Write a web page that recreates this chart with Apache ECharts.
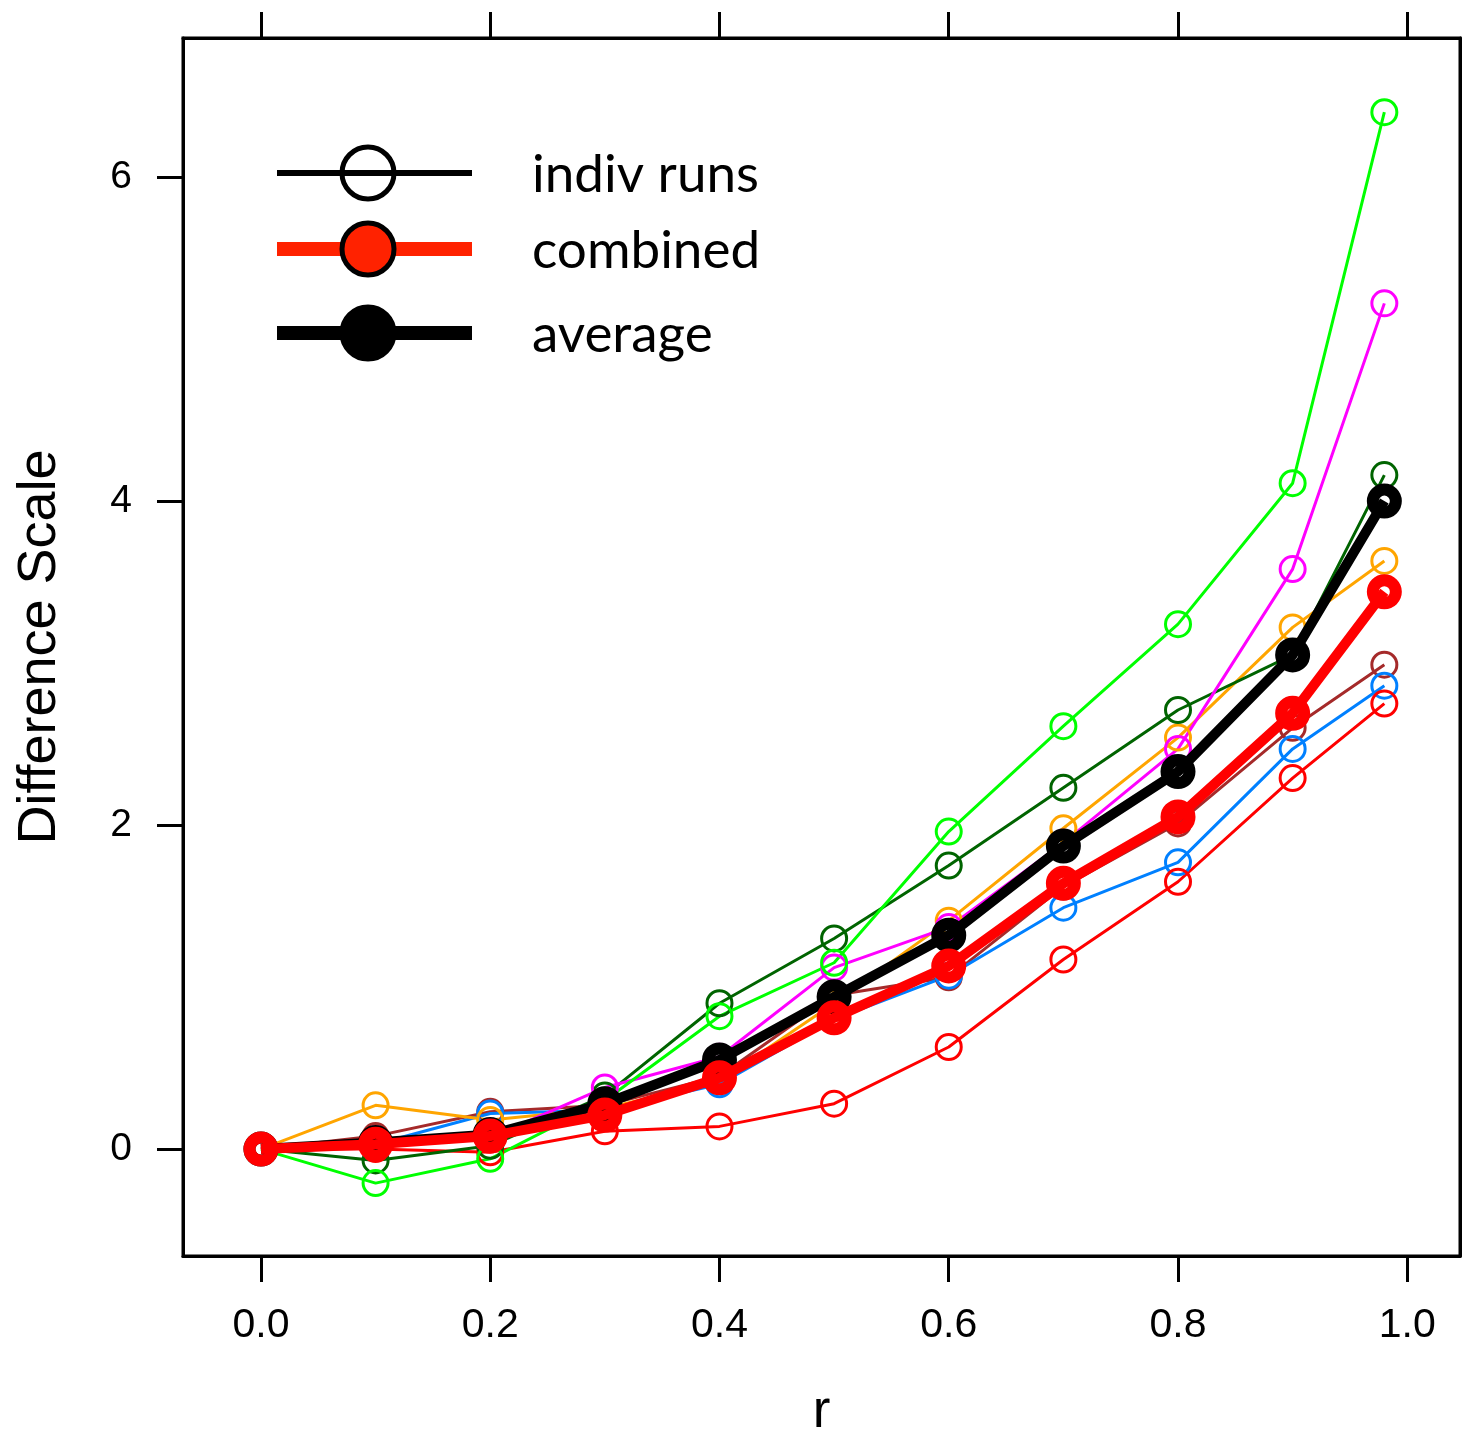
<!DOCTYPE html>
<html>
<head>
<meta charset="utf-8">
<script src="https://cdn.jsdelivr.net/npm/echarts@6/dist/echarts.min.js"></script>
<style>
html,body{margin:0;padding:0;background:#fff;}
#chart{width:1462px;height:1429px;}
</style>
</head>
<body>
<div id="chart"></div>
<script>
// ---- data ----
const rValues = [0, 0.1, 0.2, 0.3, 0.4, 0.5, 0.6, 0.7, 0.8, 0.9, 0.98];
const runGreen     = [0, -0.21, -0.06, 0.30, 0.82, 1.15, 1.96, 2.61, 3.24, 4.11, 6.40];
const runMagenta   = [0, 0.06, 0.07, 0.38, 0.57, 1.12, 1.37, 1.89, 2.47, 3.58, 5.22];
const runDarkGreen = [0, -0.07, 0.02, 0.33, 0.90, 1.30, 1.75, 2.23, 2.71, 3.05, 4.16];
const runOrange    = [0, 0.27, 0.18, 0.25, 0.42, 0.90, 1.41, 1.98, 2.54, 3.22, 3.63];
const runBrown     = [0, 0.08, 0.23, 0.27, 0.45, 0.95, 1.06, 1.62, 2.01, 2.60, 2.99];
const runBlue      = [0, 0.03, 0.22, 0.24, 0.40, 0.80, 1.07, 1.49, 1.77, 2.47, 2.86];
const runRed       = [0, 0.00, -0.02, 0.11, 0.14, 0.28, 0.63, 1.17, 1.65, 2.29, 2.75];
const averageVals  = [0, 0.04, 0.09, 0.28, 0.55, 0.94, 1.32, 1.87, 2.33, 3.05, 4.00];
const combinedVals = [0, 0.03, 0.08, 0.21, 0.44, 0.81, 1.13, 1.64, 2.05, 2.69, 3.44];
const xTicks = [0, 0.2, 0.4, 0.6, 0.8, 1.0];
const yTicks = [0, 2, 4, 6];
const legendLabels = ['indiv runs', 'combined', 'average'];
const xTitle = 'r';
const yTitle = 'Difference Scale';

const runs = [
  {name: 'run1', color: '#A52A2A', values: runBrown},
  {name: 'run2', color: '#0080FF', values: runBlue},
  {name: 'run3', color: '#FF0000', values: runRed},
  {name: 'run4', color: '#FFA500', values: runOrange},
  {name: 'run5', color: '#006400', values: runDarkGreen},
  {name: 'run6', color: '#FF00FF', values: runMagenta},
  {name: 'run7', color: '#00FF00', values: runGreen}
];

const pairs = v => rValues.map((r, i) => [r, v[i]]);

const series = runs.map(s => ({
  type: 'line', name: s.name, data: pairs(s.values),
  symbol: 'circle', symbolSize: 25,
  itemStyle: {color: 'rgba(0,0,0,0)', borderColor: s.color, borderWidth: 3},
  lineStyle: {color: s.color, width: 3},
  silent: true, z: 2
}));
series.push({
  type: 'line', name: 'average', data: pairs(averageVals),
  symbol: 'circle', symbolSize: 23,
  itemStyle: {color: 'rgba(0,0,0,0)', borderColor: '#000', borderWidth: 12},
  lineStyle: {color: '#000', width: 10},
  silent: true, z: 3
});
series.push({
  type: 'line', name: 'combined', data: pairs(combinedVals),
  symbol: 'circle', symbolSize: 23,
  itemStyle: {color: 'rgba(0,0,0,0)', borderColor: '#FF0000', borderWidth: 12},
  lineStyle: {color: '#FF0000', width: 10},
  silent: true, z: 4
});

const labelFont = '"Liberation Sans", Arial, Helvetica, sans-serif';
const legendFont = 'Lato, "Open Sans", sans-serif';

const axisLine = {show: true, onZero: false, lineStyle: {color: '#000', width: 3}};
const tickStyle = {color: '#000', width: 3};

const chart = echarts.init(document.getElementById('chart'), null, {renderer: 'canvas'});

// legend built from graphic elements (legend rows)
const legendRows = [
  {y: 173, line: '#000', lw: 6, fill: 'rgba(0,0,0,0)', stroke: '#000'},
  {y: 249, line: '#FF2200', lw: 14, fill: '#FF2200', stroke: '#000'},
  {y: 333, line: '#000', lw: 14, fill: '#000', stroke: '#000'}
];
const graphics = [];
legendRows.forEach((row, i) => {
  graphics.push({type: 'line', shape: {x1: 277, y1: row.y, x2: 472, y2: row.y},
    style: {stroke: row.line, lineWidth: row.lw}, z: 100});
  graphics.push({type: 'circle', shape: {cx: 368, cy: row.y, r: 26},
    style: {fill: row.fill, stroke: row.stroke, lineWidth: 5}, z: 101});
  graphics.push({type: 'text', x: 532, y: row.y + 2,
    style: {text: legendLabels[i], font: '53px ' + legendFont, fill: '#000',
            textAlign: 'left', textVerticalAlign: 'middle'}, z: 101});
});

chart.setOption({
  animation: false,
  backgroundColor: '#fff',
  grid: {left: 183, top: 38, right: 2, bottom: 173, containLabel: false,
         outerBoundsMode: 'none',
         show: true, borderColor: '#000', borderWidth: 3, backgroundColor: 'rgba(0,0,0,0)'},
  xAxis: [
    {type: 'value', position: 'bottom', min: -0.068, max: 1.046,
     axisLine: axisLine, splitLine: {show: false},
     axisTick: {show: true, inside: false, length: 26, lineStyle: tickStyle, customValues: xTicks},
     axisLabel: {show: true, margin: 49, fontSize: 41, fontFamily: labelFont, color: '#000',
                 customValues: xTicks, formatter: v => v.toFixed(1)},
     name: xTitle, nameLocation: 'middle', nameGap: 130,
     nameTextStyle: {fontSize: 53, fontFamily: labelFont, color: '#000'}},
    {type: 'value', position: 'top', min: -0.068, max: 1.046,
     axisLine: axisLine, splitLine: {show: false},
     axisTick: {show: true, inside: false, length: 26, lineStyle: tickStyle, customValues: xTicks},
     axisLabel: {show: false}}
  ],
  yAxis: [
    {type: 'value', position: 'left', min: -0.66, max: 6.858,
     axisLine: axisLine, splitLine: {show: false},
     axisTick: {show: true, inside: false, length: 26, lineStyle: tickStyle, customValues: yTicks},
     axisLabel: {show: true, margin: 51, fontSize: 39, fontFamily: labelFont, color: '#000',
                 customValues: yTicks, formatter: v => String(v)},
     name: yTitle, nameLocation: 'middle', nameGap: 116, nameRotate: 90,
     nameTextStyle: {fontSize: 54, fontFamily: labelFont, color: '#000'}},
    {type: 'value', position: 'right', min: -0.66, max: 6.858,
     axisLine: axisLine, splitLine: {show: false},
     axisTick: {show: false}, axisLabel: {show: false}}
  ],
  series: series,
  graphic: graphics
});
</script>
</body>
</html>
